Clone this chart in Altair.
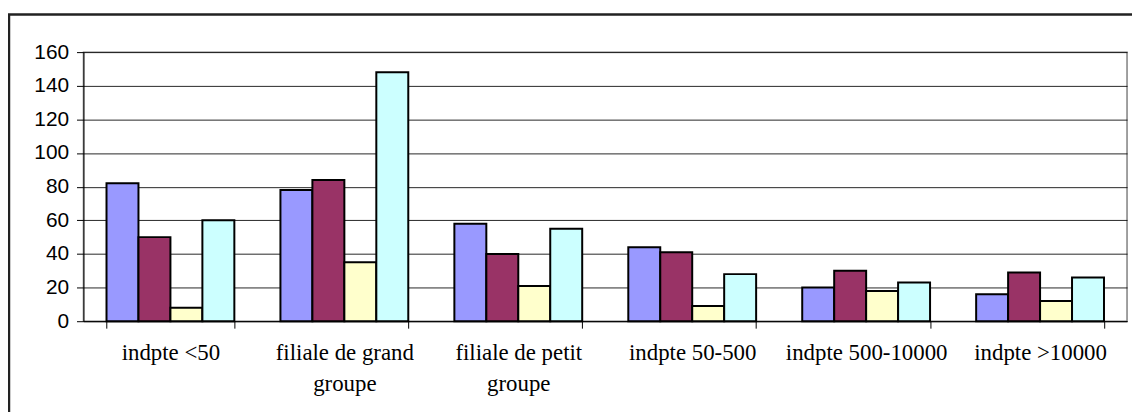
import altair as alt
import pandas as pd

categories = ["indpte <50", "filiale de grand groupe", "filiale de petit groupe",
              "indpte 50-500", "indpte 500-10000", "indpte >10000"]
series = ["Série 1", "Série 2", "Série 3", "Série 4"]
serie1 = [82, 78, 58, 44, 20, 16]
serie2 = [50, 84, 40, 41, 30, 29]
serie3 = [8, 35, 21, 9, 18, 12]
serie4 = [60, 148, 55, 28, 23, 26]
colors = ["#9999FF", "#993366", "#FFFFCC", "#CCFFFF"]
y_ticks = [0, 20, 40, 60, 80, 100, 120, 140, 160]

rows = []
for s, vals in zip(series, [serie1, serie2, serie3, serie4]):
    for c, v in zip(categories, vals):
        rows.append({"categorie": c, "serie": s, "valeur": v})
df = pd.DataFrame(rows)

W, H = 1051, 271

label_expr = ("indexof(datum.label, ' groupe') > 0 ? "
              "[replace(datum.label, ' groupe', ''), 'groupe'] : datum.label")

bars = alt.Chart(df).mark_bar(stroke="black", strokeWidth=2).encode(
    x=alt.X("categorie:N", sort=categories,
            scale=alt.Scale(paddingInner=0.265, paddingOuter=0.1325),
            axis=alt.Axis(title=None, labelAngle=0, labelExpr=label_expr,
                          labelFont="Liberation Serif", labelFontSize=23,
                          labelColor="black", labelLineHeight=31,
                          tickBand="extent", tickSize=7, tickColor="black",
                          domainColor="black", labelPadding=14, grid=False)),
    xOffset=alt.XOffset("serie:N", sort=series),
    y=alt.Y("valeur:Q", scale=alt.Scale(domain=[0, 160], nice=False),
            axis=alt.Axis(title=None, values=y_ticks, labelFont="Liberation Sans",
                          labelFontSize=21, labelColor="black", tickSize=7,
                          tickColor="black", domainColor="black", labelPadding=8,
                          gridColor="black", gridWidth=1, gridOpacity=0.85)),
    color=alt.Color("serie:N", sort=series,
                    scale=alt.Scale(domain=series, range=colors), legend=None),
)

frame = alt.Chart(pd.DataFrame({"a": [0]})).mark_rect(
    fill=None, stroke="#222", strokeWidth=2.5
).encode(
    x=alt.value(-75), x2=alt.value(1200), y=alt.value(-38), y2=alt.value(500)
)

chart = alt.layer(bars, frame).properties(
    width=W, height=H,
    autosize=alt.AutoSizeParams(type="none"),
    padding={"left": 76, "top": 43, "right": 5, "bottom": 90},
).configure_view(stroke="#808080", strokeWidth=1.5)

chart.save("out.html", embed_options={"renderer": "svg", "actions": False})
